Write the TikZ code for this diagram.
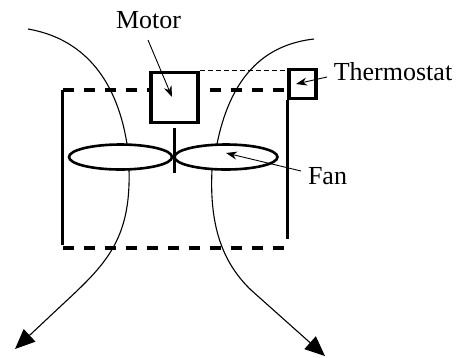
\documentclass[tikz,border=0pt]{standalone}
\usepackage{fontspec}
\setmainfont{Liberation Serif}
\usetikzlibrary{arrows.meta,shapes.geometric}

\begin{document}
\begin{tikzpicture}[x=1pt, y=-1pt, >=Stealth,
    wall/.style={line width=3.3pt},
    partbox/.style={draw, line width=3.3pt, fill=white, rectangle, inner sep=0pt},
    blade/.style={draw, line width=2.6pt, ellipse, inner sep=0pt, minimum width=103pt, minimum height=25pt},
    tag/.style={font=\fontsize{26}{28}\selectfont, anchor=base, inner sep=0pt},
    pointer/.style={line width=0.9pt, -{Stealth[length=11pt, width=8pt]}},
    airflow/.style={line width=1.1pt},
    airout/.style={airflow, -{Triangle[length=20pt, width=17pt]}}]
    \useasboundingbox (0,0) rectangle (468,357);

    % Corners of the housing
    \coordinate (topleft) at (62.5,90);
    \coordinate (topright) at (289,90);
    \coordinate (botleft) at (62.5,248);
    \coordinate (botright) at (287,248);

    % Air drawn in through the top
    \draw[airflow] (28,29) .. controls (80,38) and (116,75) .. (127,144);
    \draw[airflow] (314,39) .. controls (270,44) and (232,70) .. (217,144);

    % Housing
    \draw[wall, dash pattern=on 11pt off 10pt] (topleft) -- (topright);
    \draw[wall, dash pattern=on 11pt off 10pt] (botleft) -- (botright);
    \draw[wall] (topleft) -- (62.5,245);

    % Motor and thermostat
    \node[partbox, minimum width=47pt, minimum height=50pt] (motorbox) at (174.5,97.5) {};
    \node[partbox, minimum width=27pt, minimum height=29pt] (thermobox) at (302.5,84) {};
    \draw[wall] (thermobox.south west) -- (thermobox.south west |- 0,239);
    \draw[line width=0.8pt, dash pattern=on 5pt off 3pt] (motorbox.north east) -- (motorbox.north east -| thermobox.west);

    % Shaft and fan blades
    \draw[wall] (174.5,128) -- (174.5,173);
    \node[blade] (leftblade) at (120.5,157) {};
    \node[blade] (rightblade) at (226,157) {};

    % Air leaving through the bottom
    \draw[airout] (129,170) .. controls (131,240) and (105,265) .. (63,304) -- (15,349);
    \draw[airout] (212,170) .. controls (209,230) and (225,265) .. (251,290) -- (325,356);

    % Labels
    \node[tag] (motorlabel) at (148.5,28) {Motor};
    \node[tag] (thermolabel) at (393,80) {Thermostat};
    \node[tag] (fanlabel) at (327.5,184) {Fan};
    \coordinate (motorpoint) at (172,97);
    \coordinate (thermopoint) at (296,84);
    \coordinate (fanpoint) at (226,153);
    \coordinate (motorfrom) at (148,40);
    \coordinate (thermofrom) at (327,77);
    \coordinate (fanfrom) at (301,171);
    \draw[pointer] (motorfrom) -- (motorpoint);
    \draw[pointer] (thermofrom) -- (thermopoint);
    \draw[pointer] (fanfrom) -- (fanpoint);
\end{tikzpicture}
\end{document}
